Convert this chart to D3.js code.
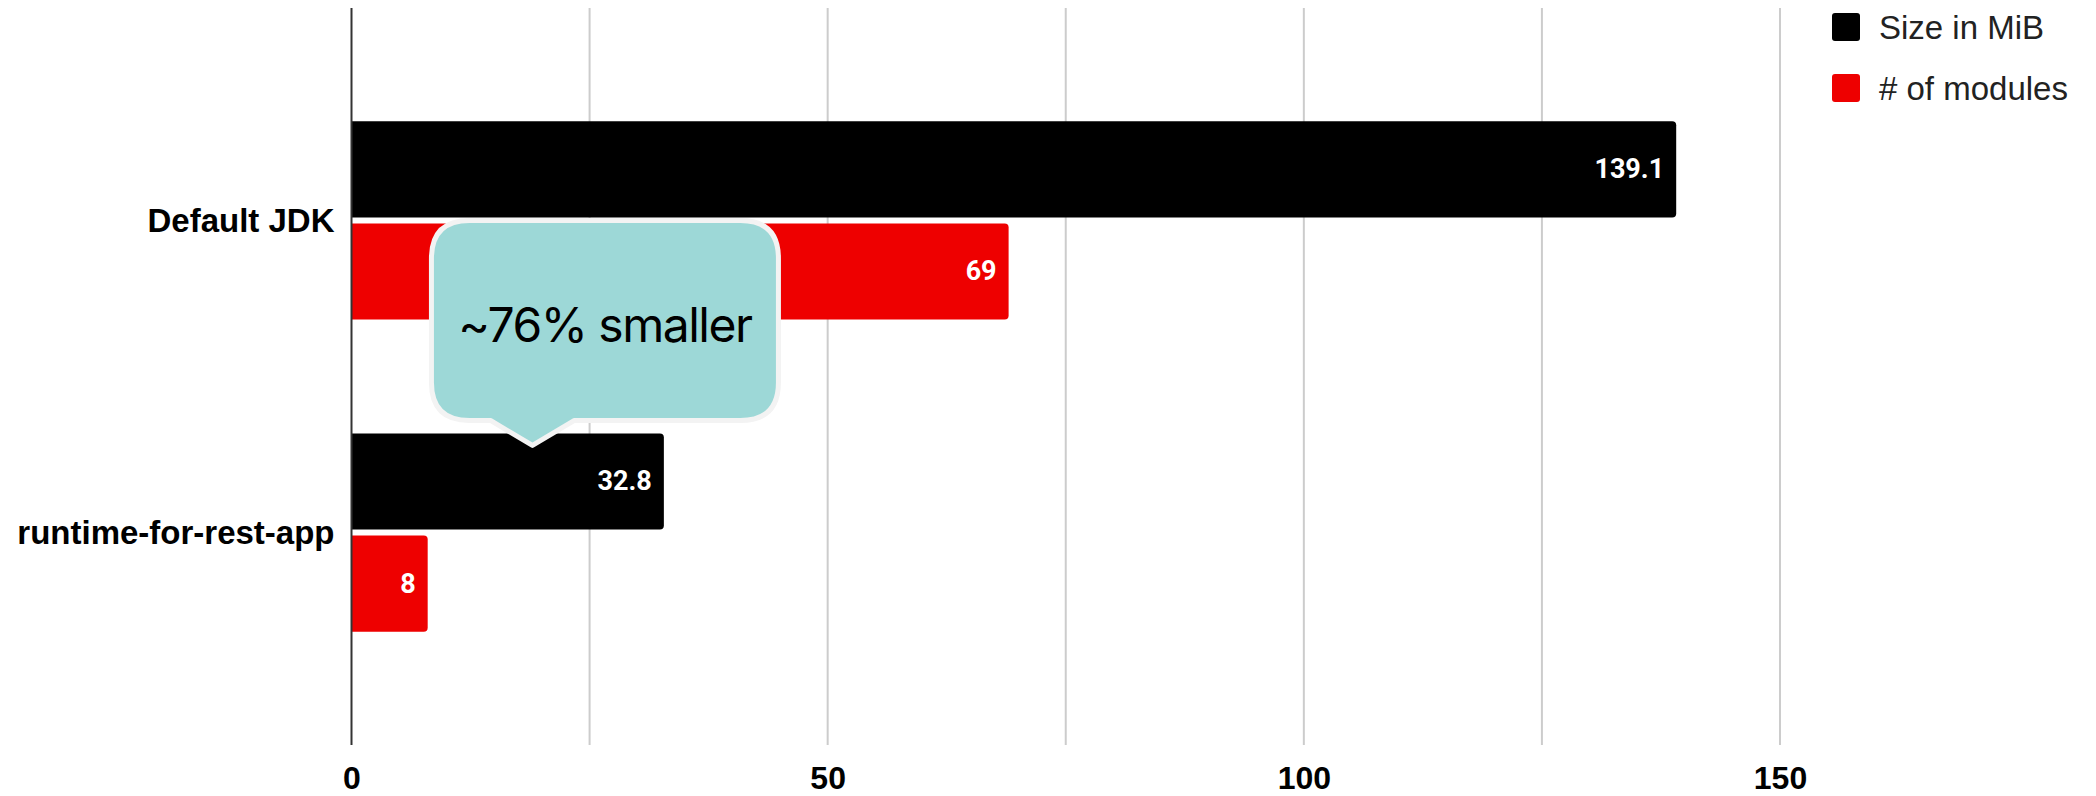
<!DOCTYPE html>
<html>
<head>
<meta charset="utf-8">
<script src="https://cdn.jsdelivr.net/npm/d3@7"></script>
<style>
  html, body { margin: 0; padding: 0; background: #fff; }
  svg { display: block; }
</style>
</head>
<body>
<svg id="chart" width="2096" height="796"></svg>
<script>
// Runtime image comparison: full JDK vs. a jlink-trimmed runtime
const categories = ["Default JDK", "runtime-for-rest-app"];
const seriesNames = ["Size in MiB", "# of modules"];
const sizeMiB = [139.1, 32.8];
const moduleCounts = [69, 8];
const seriesColors = ["#000000", "#ee0000"];
const xTickValues = [0, 50, 100, 150];
const gridValues = [25, 50, 75, 100, 125, 150];

const W = 2096, H = 796;
const plot = { left: 351.5, right: 1780, top: 8, bottom: 745 };

const svg = d3.select("#chart");

const x = d3.scaleLinear().domain([0, 150]).range([plot.left, plot.right]);
const y = d3.scaleBand().domain(categories)
  .range([plot.top + 1, plot.bottom - 1])
  .paddingInner(0.365).paddingOuter(0.36);
const ySub = d3.scaleBand().domain(seriesNames)
  .range([0, y.bandwidth()]).paddingInner(0.0588).paddingOuter(0);

const rows = categories.map((c, i) => ({
  category: c,
  values: [
    { series: seriesNames[0], value: sizeMiB[i], color: seriesColors[0] },
    { series: seriesNames[1], value: moduleCounts[i], color: seriesColors[1] }
  ]
}));

// Vertical gridlines
svg.append("g").selectAll("line").data(gridValues).join("line")
  .attr("x1", d => x(d)).attr("x2", d => x(d))
  .attr("y1", plot.top).attr("y2", plot.bottom)
  .attr("stroke", "#cccccc").attr("stroke-width", 2);

// Bars with rounded right corners
function barPath(x0, y0, x1, y1, r) {
  r = Math.min(r, (x1 - x0) / 2, (y1 - y0) / 2);
  return `M${x0},${y0}H${x1 - r}Q${x1},${y0} ${x1},${y0 + r}` +
         `V${y1 - r}Q${x1},${y1} ${x1 - r},${y1}H${x0}Z`;
}

const groups = svg.append("g").selectAll("g").data(rows).join("g")
  .attr("transform", d => `translate(0,${y(d.category)})`);

groups.selectAll("path").data(d => d.values).join("path")
  .attr("d", d => barPath(x(0), ySub(d.series), x(d.value), ySub(d.series) + ySub.bandwidth(), 4))
  .attr("fill", d => d.color);

groups.selectAll("text").data(d => d.values).join("text")
  .attr("x", d => x(d.value) - 12)
  .attr("y", d => ySub(d.series) + ySub.bandwidth() / 2)
  .attr("text-anchor", "end")
  .attr("dominant-baseline", "central")
  .attr("fill", "#ffffff")
  .style("font-family", "Roboto, 'Open Sans', sans-serif")
  .style("font-weight", 700)
  .style("font-size", "27px")
  .text(d => d.value);

// Baseline axis line at zero
svg.append("line")
  .attr("x1", x(0)).attr("x2", x(0))
  .attr("y1", plot.top).attr("y2", plot.bottom)
  .attr("stroke", "#333333").attr("stroke-width", 2);

// Category labels
svg.append("g").selectAll("text").data(categories).join("text")
  .attr("x", x(0) - 17)
  .attr("y", d => y(d) + y.bandwidth() / 2)
  .attr("text-anchor", "end")
  .attr("dominant-baseline", "central")
  .attr("fill", "#000")
  .style("font-family", "'Liberation Sans', Arial, sans-serif")
  .style("font-weight", 700)
  .style("font-size", "33px")
  .text(d => d);

// Bottom value axis
const xAxis = d3.axisBottom(x).tickValues(xTickValues).tickSize(0).tickPadding(0).tickFormat(d3.format("d"));
const axisG = svg.append("g").attr("transform", `translate(0,${plot.bottom})`).call(xAxis);
axisG.select(".domain").remove();
axisG.selectAll("text")
  .attr("y", 33)
  .attr("dy", "0.35em")
  .attr("fill", "#000")
  .style("font-family", "'Liberation Sans', Arial, sans-serif")
  .style("font-weight", 700)
  .style("font-size", "32px");

// Legend
const legend = svg.append("g").attr("transform", "translate(1832,13)");
const legendItems = legend.selectAll("g").data(seriesNames).join("g")
  .attr("transform", (d, i) => `translate(0,${i * 61})`);
legendItems.append("rect")
  .attr("width", 28).attr("height", 28).attr("rx", 3)
  .attr("fill", (d, i) => seriesColors[i]);
legendItems.append("text")
  .attr("x", 47).attr("y", 14)
  .attr("dominant-baseline", "central")
  .attr("fill", "#222")
  .style("font-family", "'Liberation Sans', Arial, sans-serif")
  .style("font-size", "33px")
  .text(d => d);

// Callout pointing at the trimmed runtime's size bar
const reduction = Math.round((1 - sizeMiB[1] / sizeMiB[0]) * 100);
const tipX = x(19), tipY = y(categories[1]) + ySub(seriesNames[0]) + 12;
const box = { left: tipX - 101, right: tipX + 246, top: tipY - 225, bottom: tipY - 25, r: 38, half: 42 };
const calloutPath =
  `M${box.left + box.r},${box.top}` +
  `H${box.right - box.r}Q${box.right},${box.top} ${box.right},${box.top + box.r}` +
  `V${box.bottom - box.r}Q${box.right},${box.bottom} ${box.right - box.r},${box.bottom}` +
  `H${tipX + box.half}L${tipX},${tipY}L${tipX - box.half},${box.bottom}` +
  `H${box.left + box.r}Q${box.left},${box.bottom} ${box.left},${box.bottom - box.r}` +
  `V${box.top + box.r}Q${box.left},${box.top} ${box.left + box.r},${box.top}Z`;
svg.append("path")
  .attr("d", calloutPath)
  .attr("fill", "#9dd8d7")
  .attr("stroke", "#f3f3f3")
  .attr("stroke-width", 5)
  .attr("stroke-linejoin", "round");
svg.append("text")
  .attr("x", (box.left + box.right) / 2)
  .attr("y", (box.top + box.bottom) / 2 + 4)
  .attr("text-anchor", "middle")
  .attr("dominant-baseline", "central")
  .attr("fill", "#000")
  .style("font-family", "Inter, 'Open Sans', sans-serif")
  .style("font-size", "48px")
  .style("letter-spacing", "-1.5px")
  .text(`~${reduction}% smaller`);
</script>
</body>
</html>
